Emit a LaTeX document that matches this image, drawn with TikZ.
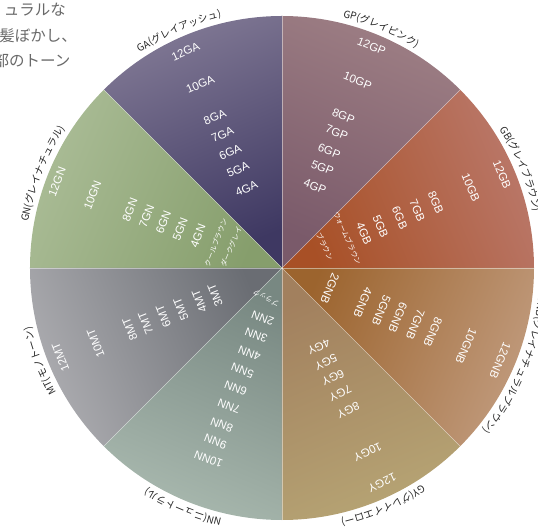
\documentclass[tikz,border=0pt]{standalone}
\usepackage{fontspec}
\setmainfont{Liberation Sans}
\newfontfamily\jpfont{Noto Sans CJK JP}
\usetikzlibrary{decorations.text}
\definecolor{gbrim}{RGB}{186,120,106}
\definecolor{gbmid}{RGB}{168,80,38}
\definecolor{gprim}{RGB}{157,126,132}
\definecolor{gpmid}{RGB}{122,90,106}
\definecolor{garim}{RGB}{128,120,148}
\definecolor{gamid}{RGB}{62,56,98}
\definecolor{gnrim}{RGB}{170,188,150}
\definecolor{gnmid}{RGB}{134,158,108}
\definecolor{mtrim}{RGB}{172,172,176}
\definecolor{mtmid}{RGB}{106,109,115}
\definecolor{nnrim}{RGB}{168,184,174}
\definecolor{nnmid}{RGB}{120,136,130}
\definecolor{gyrim}{RGB}{182,164,116}
\definecolor{gymid}{RGB}{162,128,94}
\definecolor{gnbrim}{RGB}{192,154,124}
\definecolor{gnbmid}{RGB}{156,100,46}
\definecolor{notegray}{RGB}{105,105,105}
\newcommand\ringfont{\jpfont\fontsize{10pt}{12pt}\selectfont}
\begin{document}
\begin{tikzpicture}[x=1pt, y=1pt,
  tone/.style={text=white, font=\fontsize{11.5pt}{13pt}\selectfont, inner sep=0pt},
  kana/.style={text=white, font=\jpfont\fontsize{7.2pt}{8pt}\selectfont, inner sep=0pt},
  note/.style={text=notegray, font=\jpfont\fontsize{15.5pt}{18pt}\selectfont, inner sep=0pt, anchor=east},
  sepline/.style={draw=white, draw opacity=0.45, line width=0.6pt},
  ring/.style={decorate, decoration={text along path, text align=center, text color=black!85, text={|\ringfont|#1}}}]
\useasboundingbox (-282,-264) rectangle (256,268);
\coordinate (o) at (0,0);
\shade[top color=gbrim, bottom color=gbmid, shading angle=-67.5] (o) -- (0:252) arc[start angle=0, end angle=45, radius=252pt] -- cycle;
\shade[top color=gprim, bottom color=gpmid, shading angle=-22.5] (o) -- (45:252) arc[start angle=45, end angle=90, radius=252pt] -- cycle;
\shade[top color=garim, bottom color=gamid, shading angle=22.5] (o) -- (90:252) arc[start angle=90, end angle=135, radius=252pt] -- cycle;
\shade[top color=gnrim, bottom color=gnmid, shading angle=67.5] (o) -- (135:252) arc[start angle=135, end angle=180, radius=252pt] -- cycle;
\shade[top color=mtrim, bottom color=mtmid, shading angle=112.5] (o) -- (180:252) arc[start angle=180, end angle=225, radius=252pt] -- cycle;
\shade[top color=nnrim, bottom color=nnmid, shading angle=157.5] (o) -- (225:252) arc[start angle=225, end angle=270, radius=252pt] -- cycle;
\shade[top color=gyrim, bottom color=gymid, shading angle=202.5] (o) -- (270:252) arc[start angle=270, end angle=315, radius=252pt] -- cycle;
\shade[top color=gnbrim, bottom color=gnbmid, shading angle=247.5] (o) -- (315:252) arc[start angle=315, end angle=360, radius=252pt] -- cycle;
\coordinate (rim0) at (0:252);
\coordinate (rim45) at (45:252);
\coordinate (rim90) at (90:252);
\coordinate (rim135) at (135:252);
\coordinate (rim180) at (180:252);
\coordinate (rim225) at (225:252);
\coordinate (rim270) at (270:252);
\coordinate (rim315) at (315:252);
\draw[sepline] (o) -- (rim0);
\draw[sepline] (o) -- (rim45);
\draw[sepline] (o) -- (rim90);
\draw[sepline] (o) -- (rim135);
\draw[sepline] (o) -- (rim180);
\draw[sepline] (o) -- (rim225);
\draw[sepline] (o) -- (rim270);
\draw[sepline] (o) -- (rim315);
\node[tone, rotate=-67] (gb12) at (23:239) {12GB};
\node[tone, rotate=-67] (gb10) at (23:205) {10GB};
\node[tone, rotate=-67] (gb8) at (23:167) {8GB};
\node[tone, rotate=-67] (gb7) at (23:147) {7GB};
\node[tone, rotate=-67] (gb6) at (23:128) {6GB};
\node[tone, rotate=-67] (gb5) at (23:107) {5GB};
\node[tone, rotate=-67] (gb4) at (23:89) {4GB};
\node[kana, rotate=-66] (gbwarm) at (24.6:72) {ウォームブラウン};
\node[kana, rotate=-64] (gbbrown) at (26.6:48) {ブラウン};
\node[tone, rotate=-22] (gp12) at (68:239) {12GP};
\node[tone, rotate=-22] (gp10) at (68:202) {10GP};
\node[tone, rotate=-22] (gp8) at (68:164) {8GP};
\node[tone, rotate=-22] (gp7) at (68:146) {7GP};
\node[tone, rotate=-22] (gp6) at (68:126) {6GP};
\node[tone, rotate=-22] (gp5) at (68:108) {5GP};
\node[tone, rotate=-22] (gp4) at (68:88) {4GP};
\node[tone, rotate=24] (ga12) at (114:237) {12GA};
\node[tone, rotate=24] (ga10) at (114:201) {10GA};
\node[tone, rotate=24] (ga8) at (114:165) {8GA};
\node[tone, rotate=24] (ga7) at (114:146) {7GA};
\node[tone, rotate=24] (ga6) at (114:127) {6GA};
\node[tone, rotate=24] (ga5) at (114:108) {5GA};
\node[tone, rotate=24] (ga4) at (114:87) {4GA};
\node[tone, rotate=69] (gn12) at (159:241) {12GN};
\node[tone, rotate=69] (gn10) at (159:203) {10GN};
\node[tone, rotate=69] (gn8) at (159:163) {8GN};
\node[tone, rotate=69] (gn7) at (159:145) {7GN};
\node[tone, rotate=69] (gn6) at (159:127) {6GN};
\node[tone, rotate=69] (gn5) at (159:109) {5GN};
\node[tone, rotate=69] (gn4) at (159:90) {4GN};
\node[kana, rotate=69] (gncool) at (159:71) {クールブラウン};
\node[kana, rotate=67] (gndark) at (157.4:55) {ダークグレイ};
\node[tone, rotate=112] (mt12) at (-158:239) {12MT};
\node[tone, rotate=112] (mt10) at (-158:201) {10MT};
\node[tone, rotate=112] (mt8) at (-158:164) {8MT};
\node[tone, rotate=112] (mt7) at (-158:147) {7MT};
\node[tone, rotate=112] (mt6) at (-158:128) {6MT};
\node[tone, rotate=112] (mt5) at (-158:109) {5MT};
\node[tone, rotate=112] (mt4) at (-158:89) {4MT};
\node[tone, rotate=112] (mt3) at (-158:72) {3MT};
\node[tone, rotate=159] (nn10) at (-111:205) {10NN};
\node[tone, rotate=159] (nn9) at (-111:186) {9NN};
\node[tone, rotate=159] (nn8) at (-111:168) {8NN};
\node[tone, rotate=159] (nn7) at (-111:148) {7NN};
\node[tone, rotate=159] (nn6) at (-111:129) {6NN};
\node[tone, rotate=159] (nn5) at (-111:110) {5NN};
\node[tone, rotate=159] (nn4) at (-111:91) {4NN};
\node[tone, rotate=159] (nn3) at (-111:72) {3NN};
\node[tone, rotate=159] (nn2) at (-111:54) {2NN};
\node[kana, rotate=152] (nnblack) at (-118:34) {ブラック};
\node[tone, rotate=-155] (gy12) at (-65:237) {12GY};
\node[tone, rotate=-155] (gy10) at (-65:203) {10GY};
\node[tone, rotate=-155] (gy8) at (-65:157) {8GY};
\node[tone, rotate=-155] (gy7) at (-65:138) {7GY};
\node[tone, rotate=-155] (gy6) at (-65:121) {6GY};
\node[tone, rotate=-155] (gy5) at (-65:104) {5GY};
\node[tone, rotate=-155] (gy4) at (-65:87) {4GY};
\node[tone, rotate=-113] (gnb12) at (-23:237) {12GNB};
\node[tone, rotate=-113] (gnb10) at (-23:200) {10GNB};
\node[tone, rotate=-113] (gnb8) at (-23:164) {8GNB};
\node[tone, rotate=-113] (gnb7) at (-23:145) {7GNB};
\node[tone, rotate=-113] (gnb6) at (-23:126) {6GNB};
\node[tone, rotate=-113] (gnb5) at (-23:108) {5GNB};
\node[tone, rotate=-113] (gnb4) at (-23:88) {4GNB};
\node[tone, rotate=-113] (gnb2) at (-23:52) {2GNB};
\path[ring={GB(グレイブラウン)}] (52.5:258) arc[start angle=52.5, end angle=-7.5, radius=258pt];
\path[ring={GP(グレイピンク)}] (97.5:258) arc[start angle=97.5, end angle=37.5, radius=258pt];
\path[ring={GA(グレイアッシュ)}] (143.5:258) arc[start angle=143.5, end angle=83.5, radius=258pt];
\path[ring={GN(グレイナチュラル)}] (188.5:258) arc[start angle=188.5, end angle=128.5, radius=258pt];
\path[ring={MT(モノトーン)}] (231:258) arc[start angle=231, end angle=171, radius=258pt];
\path[ring={NN(ニュートラル)}] (277.5:258) arc[start angle=277.5, end angle=217.5, radius=258pt];
\path[ring={GY(グレイイエロー)}] (323:258) arc[start angle=323, end angle=263, radius=258pt];
\path[ring={GNB(グレイナチュラルブラウン)}] (367.5:258) arc[start angle=367.5, end angle=307.5, radius=258pt];
\node[note] (line1) at (-216,258) {ュラルな};
\node[note] (line2) at (-205,232) {髪ぼかし、};
\node[note] (line3) at (-211.5,207) {部のトーン};
\end{tikzpicture}
\end{document}
